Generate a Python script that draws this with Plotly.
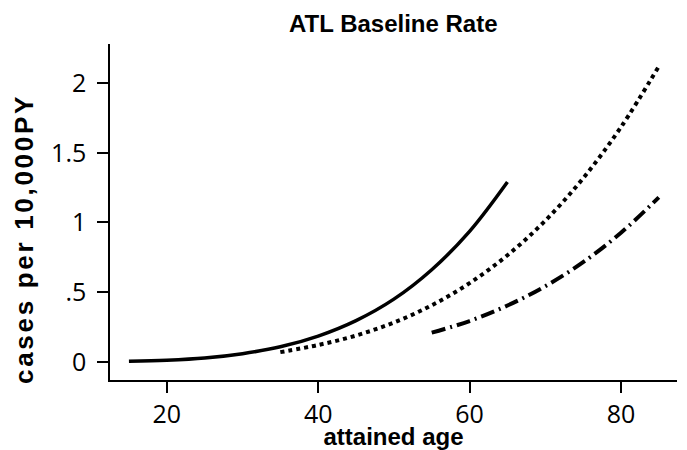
import plotly.graph_objects as go

# Ages (attained age) and baseline rates (cases per 10,000 PY)
age_solid = [15, 20, 25, 30, 35, 40, 45, 50, 55, 60, 65]
rate_solid = [0.004, 0.012, 0.028, 0.059, 0.108, 0.185, 0.296, 0.45, 0.661, 0.936, 1.29]

age_dot = [35, 40, 45, 50, 55, 60, 65, 70, 75, 80, 85]
rate_dot = [0.07, 0.121, 0.189, 0.282, 0.406, 0.565, 0.765, 1.013, 1.317, 1.684, 2.12]

age_dashdot = [55, 60, 65, 70, 75, 80, 85]
rate_dashdot = [0.21, 0.293, 0.404, 0.543, 0.715, 0.926, 1.18]

x_ticks = [20, 40, 60, 80]
y_ticks = [0, 0.5, 1, 1.5, 2]
y_ticklabels = ["0", ".5", "1", "1.5", "2"]

fig = go.Figure()
fig.add_trace(go.Scatter(x=age_solid, y=rate_solid, mode="lines",
                         line=dict(color="black", width=3.5, shape="spline")))
fig.add_trace(go.Scatter(x=age_dot, y=rate_dot, mode="lines",
                         line=dict(color="black", width=4, shape="spline", dash="4px,4px")))
fig.add_trace(go.Scatter(x=age_dashdot, y=rate_dashdot, mode="lines",
                         line=dict(color="black", width=4, shape="spline", dash="14px,5px,2px,5px")))

fig.update_layout(
    width=687, height=450,
    margin=dict(l=110, r=10, t=44, b=70),
    paper_bgcolor="white", plot_bgcolor="white",
    showlegend=False,
    title=dict(text="ATL Baseline Rate", x=0.5725, xanchor="center", y=0.947, yanchor="middle",
               font=dict(family="Liberation Sans", size=24, color="black", weight="bold")),
)
fig.update_xaxes(
    range=[12.5, 87.4], tickvals=x_ticks, ticks="outside", ticklen=11, tickwidth=1.5,
    tickcolor="black", showline=True, linecolor="black", linewidth=1.5,
    showgrid=False, zeroline=False, automargin=False,
    tickfont=dict(family="Open Sans", size=25, color="black"),
    title=dict(text="attained age", standoff=0,
               font=dict(family="Liberation Sans", size=24, color="black", weight="bold")),
)
fig.update_yaxes(
    range=[-0.13, 2.28], tickvals=y_ticks, ticktext=y_ticklabels, ticks="outside", ticklen=11,
    tickwidth=1.5, tickcolor="black", showline=True, linecolor="black", linewidth=1.5,
    showgrid=False, zeroline=False, automargin=False, ticklabelstandoff=6,
    tickfont=dict(family="Open Sans", size=25, color="black"),
)
fig.add_annotation(
    text="cases per 10,000PY", xref="paper", yref="paper", x=-0.152, y=0.42,
    xanchor="center", yanchor="middle", textangle=-90, showarrow=False,
    font=dict(family="Liberation Sans", size=26, color="black", weight="bold"),
)

post = """
document.body.style.margin = '0';
var gd = document.getElementById('{plot_id}');
var ts = gd.querySelectorAll('.annotation-text');
for (var i = 0; i < ts.length; i++) { ts[i].style.letterSpacing = '2.7px'; }
"""
fig.write_html("out.html", post_script=post, config={"displayModeBar": False})
